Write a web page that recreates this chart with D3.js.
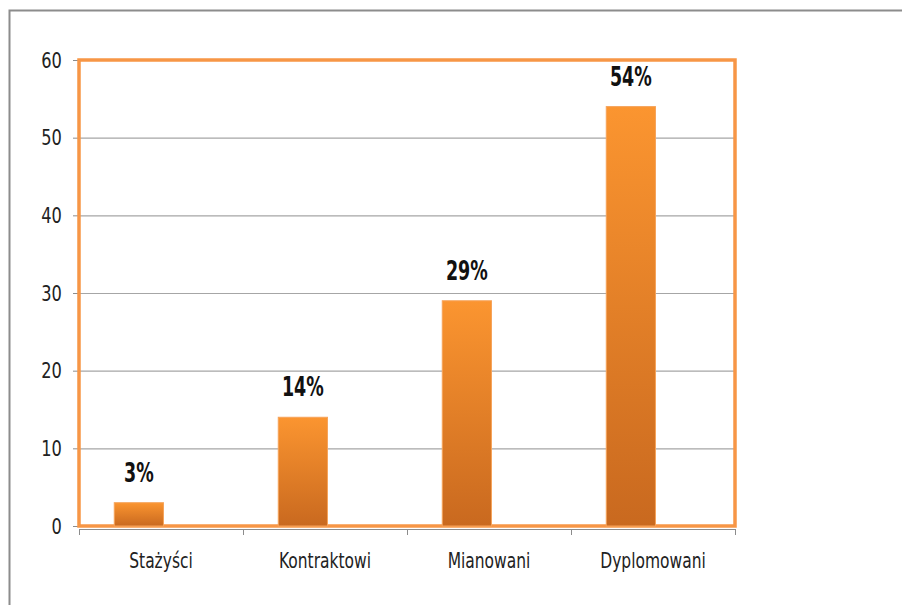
<!DOCTYPE html>
<html>
<head>
<meta charset="utf-8">
<script src="https://cdn.jsdelivr.net/npm/d3@7"></script>
<style>
  html, body { margin: 0; padding: 0; background: #fff; }
  svg { display: block; }
  text { font-stretch: condensed; }
</style>
</head>
<body>
<div id="chart"></div>
<script>
const categories = ["Stażyści", "Kontraktowi", "Mianowani", "Dyplomowani"];
const values = [3, 14, 29, 54];
const valueLabels = ["3%", "14%", "29%", "54%"];
const yTicks = [0, 10, 20, 30, 40, 50, 60];

const W = 902, H = 605;
const margin = { top: 60, right: 167, bottom: 79, left: 79 };
const innerW = W - margin.left - margin.right;
const innerH = H - margin.top - margin.bottom;
const font = "'DejaVu Sans Condensed', 'DejaVu Sans', sans-serif";
const squeeze = 0.82;     // narrow the glyphs so they look like the Calibri in the original
const squeezeBold = 0.72;

const svg = d3.select("#chart").append("svg")
  .attr("width", W).attr("height", H);

// outer chart-area frame
svg.append("path")
  .attr("d", `M9.5,${H} V10.5 H${W}`)
  .attr("fill", "none").attr("stroke", "#8c8c8c").attr("stroke-width", 2);

const defs = svg.append("defs");
const grad = defs.append("linearGradient").attr("id", "barGrad")
  .attr("x1", 0).attr("y1", 0).attr("x2", 0).attr("y2", 1);
grad.append("stop").attr("offset", "0%").attr("stop-color", "#fb9530");
grad.append("stop").attr("offset", "100%").attr("stop-color", "#c9691f");

const g = svg.append("g").attr("transform", `translate(${margin.left},${margin.top})`);

const x = d3.scaleBand().domain(categories).range([0, innerW]);
const y = d3.scaleLinear().domain([0, 60]).range([innerH, 0]);

// gridlines
g.append("g").selectAll("line").data(yTicks.filter(d => d > 0)).enter().append("line")
  .attr("x1", 0).attr("x2", innerW)
  .attr("y1", d => y(d) + 0.5).attr("y2", d => y(d) + 0.5)
  .attr("stroke", "#a6a6a6").attr("stroke-width", 1.2);

// y axis
const yAxis = g.append("g")
  .call(d3.axisLeft(y).tickValues(yTicks).tickSize(6).tickPadding(15));
yAxis.select(".domain").attr("stroke", "#8c8c8c");
yAxis.selectAll(".tick line").attr("stroke", "#8c8c8c");
yAxis.selectAll("text")
  .attr("font-family", font).attr("font-size", 22).attr("fill", "#222")
  .attr("transform", `scale(${squeeze},1)`);

// x axis
const xAxis = g.append("g").attr("transform", `translate(0,${innerH + 3})`)
  .call(d3.axisBottom(x).tickSize(0).tickPadding(24));
xAxis.select(".domain").attr("stroke", "#8c8c8c");
xAxis.selectAll("text")
  .attr("font-family", font).attr("font-size", 21).attr("fill", "#222")
  .attr("transform", `scale(${squeeze},1)`);
g.append("g").selectAll("line").data(d3.range(categories.length + 1)).enter().append("line")
  .attr("x1", i => i * x.step() + 0.5).attr("x2", i => i * x.step() + 0.5)
  .attr("y1", innerH + 3).attr("y2", innerH + 9)
  .attr("stroke", "#8c8c8c");

// plot-area border
g.append("rect")
  .attr("x", 0).attr("y", 0).attr("width", innerW).attr("height", innerH)
  .attr("fill", "none").attr("stroke", "#f79646").attr("stroke-width", 3.5);

// bars (first of a two-slot cluster)
const barOffset = x.bandwidth() * 0.215;
const barW = x.bandwidth() * 0.3;
g.append("g").selectAll("rect").data(values).enter().append("rect")
  .attr("x", (d, i) => x(categories[i]) + barOffset)
  .attr("y", d => y(d))
  .attr("width", barW)
  .attr("height", d => innerH - y(d))
  .attr("fill", "url(#barGrad)")
  .attr("stroke", "#f6a35a").attr("stroke-width", 1);

// value labels
g.append("g").selectAll("text").data(values).enter().append("text")
  .attr("transform", (d, i) =>
    `translate(${x(categories[i]) + barOffset + barW / 2},${y(d) - 21}) scale(${squeezeBold},1)`)
  .attr("text-anchor", "middle")
  .attr("font-family", font).attr("font-weight", "bold").attr("font-size", 27)
  .attr("fill", "#111")
  .text((d, i) => valueLabels[i]);
</script>
</body>
</html>
